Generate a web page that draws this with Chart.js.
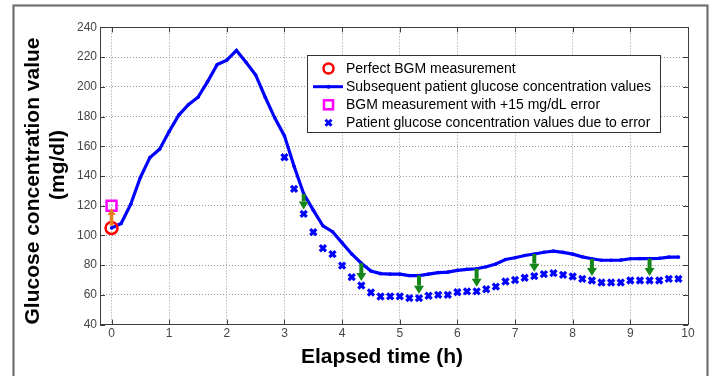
<!DOCTYPE html>
<html><head><meta charset="utf-8">
<script src="https://cdn.jsdelivr.net/npm/chart.js@4.4.1/dist/chart.umd.min.js"></script>
<style>html,body{margin:0;padding:0;background:#fff;overflow:hidden}canvas{display:block}</style>
</head><body>
<canvas id="c" width="711" height="376"></canvas>
<script>
// ---- data ----
const lineTimesMin = [0,10,20,30,40,50,60,70,80,90,100,110,120,130,140,150,160,170,180,190,200,210,220,230,240,250,260,270,280,290,300,310,320,330,340,350,360,370,380,390,400,410,420,430,440,450,460,470,480,490,500,510,520,530,540,550,560,570,580,590];
const lineValues = [105,108,121,139,152.5,158,170,181,188,193,203.5,215,218,224.5,216.5,208,193,179,167,146.5,128,117,106.5,102.5,95,87.5,81.3,76,74.3,74,74,73,73,74,75,75.3,76.5,77.2,77.6,78.9,80.8,83.8,85,86.5,87.5,88.7,89.5,88.6,87.4,85.6,84.3,83.3,83.3,83.4,84.3,84.4,84.4,84.6,85.4,85.4];
const errorTimesMin = [180,190,200,210,220,230,240,250,260,270,280,290,300,310,320,330,340,350,360,370,380,390,400,410,420,430,440,450,460,470,480,490,500,510,520,530,540,550,560,570,580,590];
const errorValues = [152.6,131.3,114.5,102.2,91.4,87.4,79.7,72,66.3,61.6,58.9,59,59,57.8,57.8,59.4,60,60,61.8,62.4,62.4,63.8,65.6,69,70,71.5,72.6,74,74.6,73.5,72.4,70.8,69.7,68.3,68.3,68.3,69.7,69.7,69.7,69.7,70.8,70.8];
const perfectTimeMin = [0];
const perfectValue = [105];
const errorBgmTimeMin = [0];
const errorBgmValue = [120];
const greenArrowTimesMin = [200,260,320,380,440,500,560];
const greenArrowFrom = [128,81.3,73,77.6,87.5,84.3,84.4];
const greenArrowTo = [117.5,69.3,60.8,65.4,75.6,72.7,72.7];
const orangeArrowTimeMin = [0];
const orangeArrowFrom = [106.5];
const orangeArrowTo = [118.5];
const xTickValues = [0,1,2,3,4,5,6,7,8,9,10];
const yTickValues = [40,60,80,100,120,140,160,180,200,220,240];
const legendLabels = ['Perfect BGM measurement','Subsequent patient glucose concentration values','BGM measurement with +15 mg/dL error','Patient glucose concentration values due to error'];
const xTitle = 'Elapsed time (h)';
const yTitleLines = ['Glucose concentration value','(mg/dl)'];

const FONT = "'Liberation Sans', Arial, Helvetica, sans-serif";
const toPts = (ts, vs) => ts.map((t, i) => ({x: t / 60, y: vs[i]}));

function drawArrow(ctx, px, y1, y2, color, shaftW, headW, headL) {
  const dir = Math.sign(y2 - y1);
  ctx.save();
  ctx.strokeStyle = color; ctx.fillStyle = color; ctx.lineWidth = shaftW;
  ctx.beginPath(); ctx.moveTo(px, y1); ctx.lineTo(px, y2 - dir * headL); ctx.stroke();
  ctx.beginPath();
  ctx.moveTo(px - headW / 2, y2 - dir * headL);
  ctx.lineTo(px + headW / 2, y2 - dir * headL);
  ctx.lineTo(px, y2); ctx.closePath(); ctx.fill();
  ctx.restore();
}

const decor = {
  id: 'decor',
  beforeDraw(chart) {
    const ctx = chart.ctx;
    ctx.save(); ctx.fillStyle = '#fff'; ctx.fillRect(0, 0, chart.width, chart.height); ctx.restore();
  },
  afterDatasetsDraw(chart) {
    const {ctx, scales: {x, y}} = chart;
    greenArrowTimesMin.forEach((t, i) => {
      drawArrow(ctx, x.getPixelForValue(t / 60), y.getPixelForValue(greenArrowFrom[i]), y.getPixelForValue(greenArrowTo[i]), '#17861a', 4, 10, 8);
    });
    orangeArrowTimeMin.forEach((t, i) => {
      drawArrow(ctx, x.getPixelForValue(t / 60), y.getPixelForValue(orangeArrowFrom[i]), y.getPixelForValue(orangeArrowTo[i]), '#e5801e', 3.5, 8, 7);
    });
  },
  afterDraw(chart) {
    const {ctx, chartArea: a, scales: {x, y}} = chart;
    ctx.save();
    // axes box + inner ticks
    ctx.strokeStyle = '#3c3c3c'; ctx.lineWidth = 1;
    ctx.strokeRect(Math.round(a.left) + 0.5, Math.round(a.top) + 0.5, Math.round(a.right - a.left), Math.round(a.bottom - a.top));
    ctx.beginPath();
    x.ticks.forEach(tk => {
      const px = Math.round(x.getPixelForValue(tk.value)) + 0.5;
      ctx.moveTo(px, a.bottom); ctx.lineTo(px, a.bottom - 5);
      ctx.moveTo(px, a.top); ctx.lineTo(px, a.top + 5);
    });
    y.ticks.forEach(tk => {
      const py = Math.round(y.getPixelForValue(tk.value)) + 0.5;
      ctx.moveTo(a.left, py); ctx.lineTo(a.left + 5, py);
      ctx.moveTo(a.right, py); ctx.lineTo(a.right - 5, py);
    });
    ctx.stroke();

    // legend
    const L = 307.5, T = 55.5, W = 353, H = 77;
    ctx.fillStyle = '#fff'; ctx.fillRect(L, T, W, H);
    ctx.strokeStyle = '#333'; ctx.lineWidth = 1; ctx.strokeRect(L, T, W, H);
    const rows = [68.5, 86.7, 104.8, 122.8];
    const sx = 328.5;
    ctx.lineWidth = 2.5; ctx.strokeStyle = '#ff0000';
    ctx.beginPath(); ctx.arc(sx, rows[0], 5, 0, Math.PI * 2); ctx.stroke();
    ctx.strokeStyle = '#0000ff'; ctx.lineWidth = 3;
    ctx.beginPath(); ctx.moveTo(313, rows[1]); ctx.lineTo(343, rows[1]); ctx.stroke();
    ctx.fillStyle = '#0000ff'; ctx.beginPath(); ctx.arc(sx, rows[1], 2, 0, Math.PI * 2); ctx.fill();
    ctx.strokeStyle = '#ff00ff'; ctx.lineWidth = 2.5;
    ctx.strokeRect(sx - 4.5, rows[2] - 4.5, 9, 9);
    ctx.strokeStyle = '#0000ff'; ctx.lineWidth = 3;
    ctx.beginPath();
    ctx.moveTo(sx - 3, rows[3] - 3); ctx.lineTo(sx + 3, rows[3] + 3);
    ctx.moveTo(sx + 3, rows[3] - 3); ctx.lineTo(sx - 3, rows[3] + 3);
    ctx.stroke();
    ctx.fillStyle = '#000'; ctx.font = '14px ' + FONT; ctx.textBaseline = 'middle'; ctx.textAlign = 'left';
    legendLabels.forEach((s, i) => ctx.fillText(s, 346, rows[i] + 0.5));

    // axis titles
    ctx.fillStyle = '#000'; ctx.font = 'bold 21px ' + FONT; ctx.textAlign = 'center'; ctx.textBaseline = 'middle';
    ctx.fillText(xTitle, 382, 357.5);
    const yCenters = [[33, 181], [58, 165]];
    yTitleLines.forEach((s, i) => {
      ctx.save(); ctx.translate(yCenters[i][0], yCenters[i][1]); ctx.rotate(-Math.PI / 2);
      ctx.fillText(s, 0, 0); ctx.restore();
    });

    // outer frame
    ctx.strokeStyle = '#707070'; ctx.lineWidth = 2.2;
    ctx.strokeRect(13.5, 5.5, 694, 420);
    ctx.restore();
  }
};

new Chart(document.getElementById('c'), {
  type: 'line',
  data: {
    datasets: [
      { label: legendLabels[0], data: toPts(perfectTimeMin, perfectValue), showLine: false,
        pointStyle: 'circle', pointRadius: 6, pointBorderWidth: 2.5, pointBorderColor: '#ff0000',
        pointBackgroundColor: 'rgba(0,0,0,0)', borderColor: '#ff0000', order: 1 },
      { label: legendLabels[1], data: toPts(lineTimesMin, lineValues), borderColor: '#0000ff',
        borderWidth: 3.2, pointRadius: 1.8, pointBorderWidth: 0, pointBackgroundColor: '#0000ff',
        tension: 0, order: 3 },
      { label: legendLabels[2], data: toPts(errorBgmTimeMin, errorBgmValue), showLine: false,
        pointStyle: 'rect', pointRadius: 7, pointBorderWidth: 2.5, pointBorderColor: '#ff00ff',
        pointBackgroundColor: 'rgba(0,0,0,0)', borderColor: '#ff00ff', order: 2 },
      { label: legendLabels[3], data: toPts(errorTimesMin, errorValues), showLine: false,
        pointStyle: 'crossRot', pointRadius: 4.3, pointBorderWidth: 3.2, pointBorderColor: '#0000ff',
        borderColor: '#0000ff', order: 4 }
    ]
  },
  options: {
    responsive: false, animation: false, devicePixelRatio: 1,
    layout: { padding: { left: 0, right: 23, top: 27.4, bottom: 0 } },
    plugins: { legend: { display: false }, tooltip: { enabled: false }, title: { display: false } },
    scales: {
      x: {
        type: 'linear', min: -0.2, max: 10,
        afterBuildTicks: s => { s.ticks = xTickValues.map(v => ({value: v})); },
        afterFit: s => { s.height = 376 - 324.6; },
        ticks: { font: { size: 12, family: FONT }, color: '#454545', padding: 2, maxRotation: 0, autoSkip: false },
        grid: { color: '#999999', lineWidth: 1, drawTicks: false },
        border: { display: false, dash: [1, 2] }
      },
      y: {
        type: 'linear', min: 40, max: 240,
        afterBuildTicks: s => { s.ticks = yTickValues.map(v => ({value: v})); },
        afterFit: s => { s.width = 100; },
        ticks: { font: { size: 12, family: FONT }, color: '#454545', padding: 3, autoSkip: false },
        grid: { color: '#999999', lineWidth: 1, drawTicks: false },
        border: { display: false, dash: [1, 2] }
      }
    }
  },
  plugins: [decor]
});
</script>
</body></html>
